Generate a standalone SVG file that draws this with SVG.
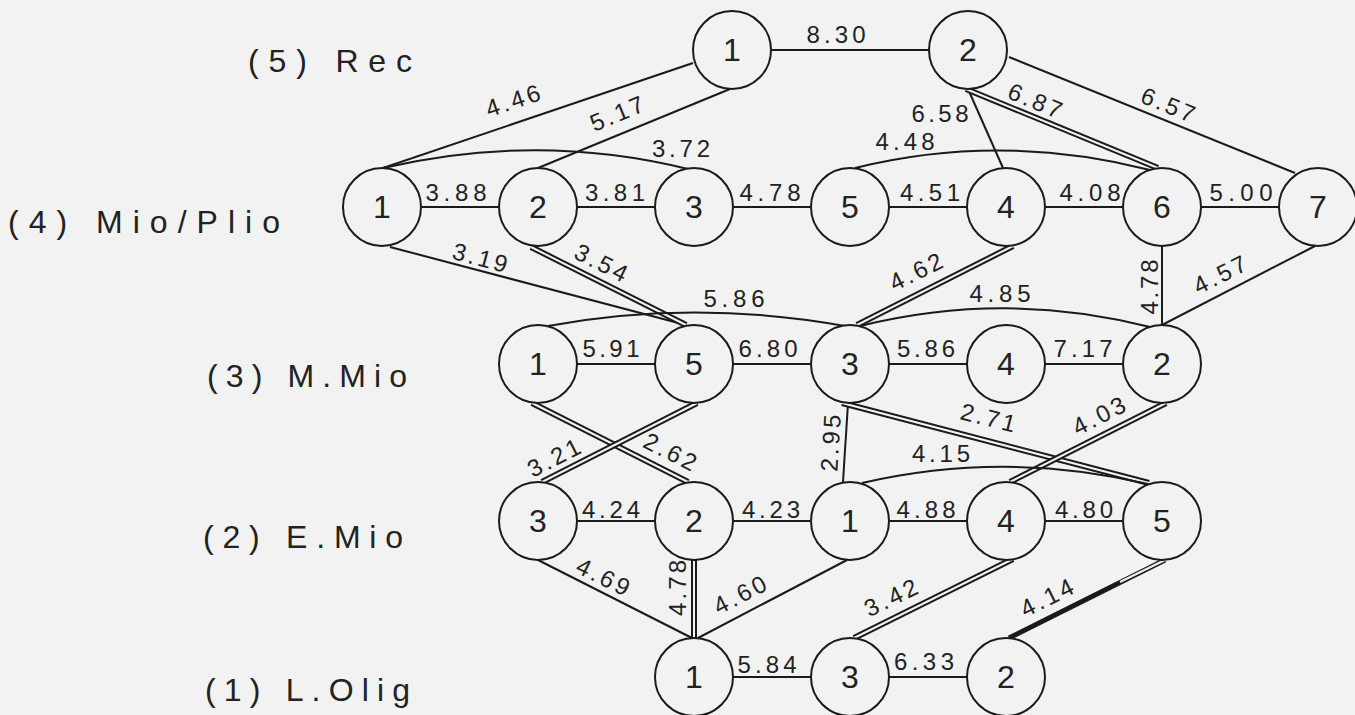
<svg xmlns="http://www.w3.org/2000/svg" width="1355" height="715" viewBox="0 0 1355 715">
<style>
.bg{fill:#f2f2f2}
.n circle{fill:#f2f2f2;stroke:#1a1a1a;stroke-width:2}
.n text{font-family:"Liberation Sans",Arial,sans-serif;font-size:32px;text-anchor:middle;fill:#222}
.e line,.e path{stroke:#1a1a1a;stroke-width:2;fill:none}
.e .d{stroke-width:6}
.e .di{stroke:#f2f2f2;stroke-width:2}
.e .t{stroke-width:5}
.lbl{font-family:"Liberation Sans",Arial,sans-serif;font-size:24px;text-anchor:middle;fill:#222}
.row{font-family:"Liberation Sans",Arial,sans-serif;font-size:32px;fill:#222}
</style>
<rect class="bg" x="0" y="0" width="1355" height="715"/>

<g id="row-labels">
<text class="row" x="248" y="72" textLength="164" lengthAdjust="spacing">(5) Rec</text>
<text class="row" x="8" y="233" textLength="272" lengthAdjust="spacing">(4) Mio/Plio</text>
<text class="row" x="207" y="387" textLength="200" lengthAdjust="spacing">(3) M.Mio</text>
<text class="row" x="203" y="548" textLength="200" lengthAdjust="spacing">(2) E.Mio</text>
<text class="row" x="205" y="701" textLength="205" lengthAdjust="spacing">(1) L.Olig</text>
</g>

<g id="connectors" class="e">
<line x1="771" y1="50" x2="929" y2="50"/>
<line x1="693" y1="63" x2="383" y2="168"/>
<line x1="730" y1="89" x2="538" y2="168"/>
<line x1="968" y1="89" x2="1003" y2="168"/>
<line class="d" x1="966" y1="89" x2="1158" y2="168"/>
<line class="di" x1="966" y1="89" x2="1158" y2="168"/>
<line x1="1009" y1="57" x2="1295" y2="173"/>
<path d="M383 168 Q538 132 688 169"/>
<path d="M855 168 Q1000 132 1150 170"/>
<line x1="421" y1="207" x2="499" y2="207"/>
<line x1="577" y1="207" x2="655" y2="207"/>
<line x1="733" y1="207" x2="811" y2="207"/>
<line x1="889" y1="207" x2="967" y2="207"/>
<line x1="1045" y1="207" x2="1123" y2="207"/>
<line x1="1201" y1="207" x2="1279" y2="207"/>
<line x1="390" y1="247" x2="686" y2="325"/>
<line class="d" x1="531" y1="247" x2="686" y2="325"/>
<line class="di" x1="531" y1="247" x2="686" y2="325"/>
<line class="d" x1="1013" y1="246" x2="857" y2="325"/>
<line class="di" x1="1013" y1="246" x2="857" y2="325"/>
<line x1="1162" y1="246" x2="1162" y2="325"/>
<line x1="1315" y1="246" x2="1162" y2="325"/>
<path d="M548 326 Q694 299 845 326"/>
<path d="M860 326 Q1005 290 1150 327"/>
<line x1="577" y1="364" x2="655" y2="364"/>
<line x1="733" y1="364" x2="811" y2="364"/>
<line x1="889" y1="364" x2="967" y2="364"/>
<line x1="1045" y1="364" x2="1123" y2="364"/>
<line class="d" x1="532" y1="403" x2="688" y2="482"/>
<line class="di" x1="532" y1="403" x2="688" y2="482"/>
<line class="d" x1="697" y1="403" x2="542" y2="482"/>
<line class="di" x1="697" y1="403" x2="542" y2="482"/>
<line x1="848" y1="403" x2="843" y2="482"/>
<line class="d" x1="842" y1="403" x2="1149" y2="483"/>
<line class="di" x1="842" y1="403" x2="1149" y2="483"/>
<line class="d" x1="1166" y1="403" x2="1010" y2="482"/>
<line class="di" x1="1166" y1="403" x2="1010" y2="482"/>
<path d="M862 483 Q1005 450 1148 484"/>
<line x1="577" y1="521" x2="655" y2="521"/>
<line x1="733" y1="521" x2="811" y2="521"/>
<line x1="889" y1="521" x2="967" y2="521"/>
<line x1="1045" y1="521" x2="1123" y2="521"/>
<line x1="538" y1="560" x2="692" y2="638"/>
<line class="d" x1="694" y1="560" x2="694" y2="638"/>
<line class="di" x1="694" y1="560" x2="694" y2="638"/>
<line x1="847" y1="560" x2="698" y2="638"/>
<line class="d" x1="1013" y1="559" x2="854" y2="638"/>
<line class="di" x1="1013" y1="559" x2="854" y2="638"/>
<line class="t" x1="1165" y1="560" x2="1009" y2="638"/>
<line class="di" x1="1165" y1="560" x2="1120" y2="582"/>
<line x1="733" y1="677" x2="811" y2="677"/>
<line x1="889" y1="677" x2="967" y2="677"/>
</g>

<g id="edge-labels">
<text class="lbl" x="836" y="43" textLength="59" lengthAdjust="spacing">8.30</text>
<text class="lbl" transform="translate(513,101) rotate(-18.7)" y="8" textLength="56" lengthAdjust="spacing">4.46</text>
<text class="lbl" transform="translate(617,114) rotate(-22.4)" y="8" textLength="56" lengthAdjust="spacing">5.17</text>
<text class="lbl" x="940" y="122" textLength="57" lengthAdjust="spacing">6.58</text>
<text class="lbl" transform="translate(1035,101) rotate(22.4)" y="8" textLength="56" lengthAdjust="spacing">6.87</text>
<text class="lbl" transform="translate(1168,105) rotate(22.1)" y="8" textLength="56" lengthAdjust="spacing">6.57</text>
<text class="lbl" x="681" y="157" textLength="58" lengthAdjust="spacing">3.72</text>
<text class="lbl" x="905" y="150" textLength="59" lengthAdjust="spacing">4.48</text>
<text class="lbl" x="456" y="201" textLength="61" lengthAdjust="spacing">3.88</text>
<text class="lbl" x="615" y="201" textLength="60" lengthAdjust="spacing">3.81</text>
<text class="lbl" x="770" y="201" textLength="61" lengthAdjust="spacing">4.78</text>
<text class="lbl" x="930" y="201" textLength="60" lengthAdjust="spacing">4.51</text>
<text class="lbl" x="1090" y="201" textLength="61" lengthAdjust="spacing">4.08</text>
<text class="lbl" x="1241" y="201" textLength="63" lengthAdjust="spacing">5.00</text>
<text class="lbl" transform="translate(480,258) rotate(14.8)" y="8" textLength="56" lengthAdjust="spacing">3.19</text>
<text class="lbl" transform="translate(601,263) rotate(26.6)" y="8" textLength="56" lengthAdjust="spacing">3.54</text>
<text class="lbl" transform="translate(916,272) rotate(-26.3)" y="8" textLength="56" lengthAdjust="spacing">4.62</text>
<text class="lbl" transform="translate(1150,287) rotate(-90)" y="8" textLength="55" lengthAdjust="spacing">4.78</text>
<text class="lbl" transform="translate(1220,275) rotate(-26.7)" y="8" textLength="56" lengthAdjust="spacing">4.57</text>
<text class="lbl" x="734" y="307" textLength="61" lengthAdjust="spacing">5.86</text>
<text class="lbl" x="1000" y="302" textLength="61" lengthAdjust="spacing">4.85</text>
<text class="lbl" x="611" y="357" textLength="57" lengthAdjust="spacing">5.91</text>
<text class="lbl" x="768" y="357" textLength="59" lengthAdjust="spacing">6.80</text>
<text class="lbl" x="926" y="357" textLength="58" lengthAdjust="spacing">5.86</text>
<text class="lbl" x="1083" y="357" textLength="59" lengthAdjust="spacing">7.17</text>
<text class="lbl" transform="translate(670,452) rotate(27)" y="8" textLength="56" lengthAdjust="spacing">2.62</text>
<text class="lbl" transform="translate(554,458) rotate(-27.3)" y="8" textLength="56" lengthAdjust="spacing">3.21</text>
<text class="lbl" transform="translate(831,443) rotate(-86.4)" y="8" textLength="57" lengthAdjust="spacing">2.95</text>
<text class="lbl" transform="translate(988,418) rotate(14.2)" y="8" textLength="56" lengthAdjust="spacing">2.71</text>
<text class="lbl" transform="translate(1099,416) rotate(-27.1)" y="8" textLength="56" lengthAdjust="spacing">4.03</text>
<text class="lbl" x="941" y="462" textLength="58" lengthAdjust="spacing">4.15</text>
<text class="lbl" x="611" y="518" textLength="58" lengthAdjust="spacing">4.24</text>
<text class="lbl" x="771" y="518" textLength="58" lengthAdjust="spacing">4.23</text>
<text class="lbl" x="926" y="518" textLength="59" lengthAdjust="spacing">4.88</text>
<text class="lbl" x="1084" y="518" textLength="58" lengthAdjust="spacing">4.80</text>
<text class="lbl" transform="translate(603,577) rotate(26.1)" y="8" textLength="56" lengthAdjust="spacing">4.69</text>
<text class="lbl" transform="translate(678,588) rotate(-90)" y="8" textLength="56" lengthAdjust="spacing">4.78</text>
<text class="lbl" transform="translate(740,595) rotate(-27.3)" y="8" textLength="56" lengthAdjust="spacing">4.60</text>
<text class="lbl" transform="translate(891,598) rotate(-26.1)" y="8" textLength="56" lengthAdjust="spacing">3.42</text>
<text class="lbl" transform="translate(1047,598) rotate(-26.6)" y="8" textLength="56" lengthAdjust="spacing">4.14</text>
<text class="lbl" x="767" y="673" textLength="59" lengthAdjust="spacing">5.84</text>
<text class="lbl" x="924" y="670" textLength="60" lengthAdjust="spacing">6.33</text>
</g>

<g id="rec-1" class="n"><circle cx="732" cy="50" r="39"/><text x="732" y="61">1</text></g>
<g id="rec-2" class="n"><circle cx="968" cy="50" r="39"/><text x="968" y="61">2</text></g>

<g id="mp-1" class="n"><circle cx="382" cy="207" r="39"/><text x="382" y="218">1</text></g>
<g id="mp-2" class="n"><circle cx="538" cy="207" r="39"/><text x="538" y="218">2</text></g>
<g id="mp-3" class="n"><circle cx="694" cy="207" r="39"/><text x="694" y="218">3</text></g>
<g id="mp-5" class="n"><circle cx="850" cy="207" r="39"/><text x="850" y="218">5</text></g>
<g id="mp-4" class="n"><circle cx="1006" cy="207" r="39"/><text x="1006" y="218">4</text></g>
<g id="mp-6" class="n"><circle cx="1162" cy="207" r="39"/><text x="1162" y="218">6</text></g>
<g id="mp-7" class="n"><circle cx="1318" cy="207" r="39"/><text x="1318" y="218">7</text></g>

<g id="mm-1" class="n"><circle cx="538" cy="364" r="39"/><text x="538" y="375">1</text></g>
<g id="mm-5" class="n"><circle cx="694" cy="364" r="39"/><text x="694" y="375">5</text></g>
<g id="mm-3" class="n"><circle cx="850" cy="364" r="39"/><text x="850" y="375">3</text></g>
<g id="mm-4" class="n"><circle cx="1006" cy="364" r="39"/><text x="1006" y="375">4</text></g>
<g id="mm-2" class="n"><circle cx="1162" cy="364" r="39"/><text x="1162" y="375">2</text></g>

<g id="em-3" class="n"><circle cx="538" cy="521" r="39"/><text x="538" y="532">3</text></g>
<g id="em-2" class="n"><circle cx="694" cy="521" r="39"/><text x="694" y="532">2</text></g>
<g id="em-1" class="n"><circle cx="850" cy="521" r="39"/><text x="850" y="532">1</text></g>
<g id="em-4" class="n"><circle cx="1006" cy="521" r="39"/><text x="1006" y="532">4</text></g>
<g id="em-5" class="n"><circle cx="1162" cy="521" r="39"/><text x="1162" y="532">5</text></g>

<g id="lo-1" class="n"><circle cx="694" cy="677" r="39"/><text x="694" y="688">1</text></g>
<g id="lo-3" class="n"><circle cx="850" cy="677" r="39"/><text x="850" y="688">3</text></g>
<g id="lo-2" class="n"><circle cx="1006" cy="677" r="39"/><text x="1006" y="688">2</text></g>
</svg>
